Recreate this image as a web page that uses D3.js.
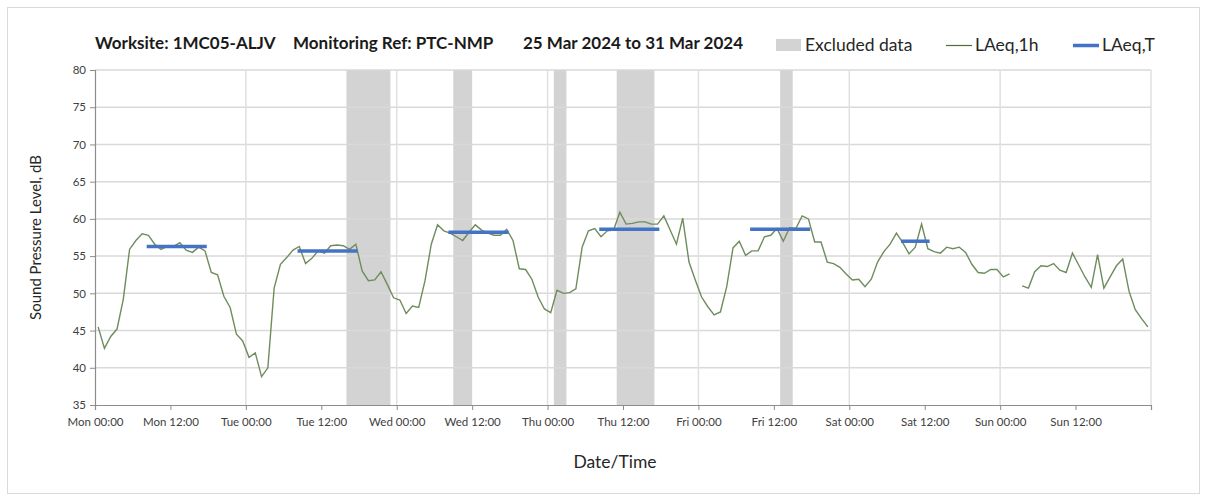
<!DOCTYPE html>
<html>
<head>
<meta charset="utf-8">
<script src="https://cdn.jsdelivr.net/npm/d3@7"></script>
<style>
  body { margin: 0; background: #fff; }
  text { font-family: Lato, "Open Sans", sans-serif; }
</style>
</head>
<body>
<div id="chart"></div>
<script>
// hourly LAeq,1h values starting Mon 25 Mar 2024 00:00 (plotted at mid hour)
var startDate = new Date(Date.UTC(2024, 2, 25, 0, 0));
var laeq1h = [
  45.5, 42.6, 44.2, 45.2, 49.2, 55.9, 57.1, 58.0, 57.8, 56.6, 55.9, 56.3,
  56.3, 56.8, 55.8, 55.5, 56.2, 55.7, 52.8, 52.5, 49.6, 48.1, 44.5, 43.6,
  41.4, 42.0, 38.8, 40.0, 50.7, 53.9, 54.8, 55.8, 56.3, 54.0, 54.7, 55.7,
  55.4, 56.4, 56.5, 56.4, 55.9, 56.6, 53.0, 51.7, 51.8, 52.9, 51.2, 49.4,
  49.1, 47.3, 48.3, 48.1, 51.7, 56.6, 59.2, 58.4, 58.1, 57.6, 57.1, 58.2,
  59.2, 58.5, 58.1, 57.8, 57.8, 58.6, 57.1, 53.3, 53.2, 51.9, 49.5, 47.9,
  47.4, 50.4, 50.0, 50.1, 50.6, 56.2, 58.4, 58.7, 57.6, 58.4, 58.5, 60.9,
  59.3, 59.4, 59.6, 59.6, 59.3, 59.3, 60.4, 58.5, 56.6, 60.1, 54.2, 51.8,
  49.5, 48.2, 47.1, 47.5, 50.9, 56.1, 57.0, 55.1, 55.7, 55.7, 57.6, 57.8,
  58.7, 57.0, 58.8, 58.7, 60.4, 60.0, 56.9, 56.9, 54.2, 54.0, 53.5, 52.6,
  51.8, 51.9, 50.9, 51.9, 54.2, 55.6, 56.6, 58.1, 56.8, 55.3, 56.2, 59.3,
  56.0, 55.6, 55.4, 56.2, 56.0, 56.2, 55.5, 53.9, 52.8, 52.7, 53.2, 53.2,
  52.2, 52.6, null, 51.0, 50.7, 52.9, 53.7, 53.6, 54.0, 53.1, 52.8, 55.4,
  53.8, 52.2, 50.8, 55.2, 50.7, 52.2, 53.7, 54.6, 50.3, 47.8, 46.6, 45.5
];

// LAeq,T periods: start hour, end hour, level
var periodStart = [8.5, 32.5, 56.5, 80.5, 104.5, 128.5];
var periodEnd   = [17.5, 41.5, 65.5, 89.5, 113.5, 132.5];
var periodLevel = [56.3, 55.7, 58.2, 58.6, 58.6, 57.0];

// excluded data windows (hours from start)
var exclStart = [40, 57, 73, 83, 109];
var exclEnd   = [47, 60, 75, 89, 111];

var yTicks = [35, 40, 45, 50, 55, 60, 65, 70, 75, 80];

function hrs(h) { return new Date(startDate.getTime() + h * 3600000); }

var W = 1208, H = 495,
    margin = {top: 70, right: 57, bottom: 90, left: 95},
    width = W - margin.left - margin.right,
    height = H - margin.top - margin.bottom;

var svg = d3.select("#chart").append("svg")
    .attr("width", W).attr("height", H);

svg.append("rect")
    .attr("x", 7.5).attr("y", 7.5)
    .attr("width", 1192).attr("height", 486)
    .attr("fill", "#fff").attr("stroke", "#d9d9d9");

var g = svg.append("g")
    .attr("transform", "translate(" + margin.left + "," + margin.top + ")");

var x = d3.scaleUtc().domain([hrs(0), hrs(168)]).range([0, width]);
var y = d3.scaleLinear().domain([35, 80]).range([height, 0]);

// excluded bands
g.selectAll(".excl")
  .data(exclStart.map(function(s, i){ return {s: s, e: exclEnd[i]}; }))
  .enter().append("rect")
    .attr("class", "excl")
    .attr("x", function(d){ return x(hrs(d.s)); })
    .attr("width", function(d){ return x(hrs(d.e)) - x(hrs(d.s)); })
    .attr("y", 0).attr("height", height)
    .attr("fill", "#d3d3d3");

// gridlines
g.append("g")
  .selectAll("line")
  .data(yTicks.slice(1))
  .enter().append("line")
    .attr("x1", 0).attr("x2", width)
    .attr("y1", function(d){ return y(d); })
    .attr("y2", function(d){ return y(d); })
    .attr("stroke", "#d9d9d9").attr("stroke-width", 1.5);

g.append("g")
  .selectAll("line")
  .data(d3.utcDay.range(hrs(24), hrs(169)))
  .enter().append("line")
    .attr("x1", function(d){ return x(d); })
    .attr("x2", function(d){ return x(d); })
    .attr("y1", 0).attr("y2", height)
    .attr("stroke", "#e0e0e0").attr("stroke-width", 1.5);

// axes
var fmt = d3.utcFormat("%a %H:%M");
var xAxis = d3.axisBottom(x)
    .tickValues(d3.utcHour.every(12).range(hrs(0), hrs(169)))
    .tickSize(5)
    .tickFormat(function(d){ return d >= hrs(168) ? "" : fmt(d); });

var gx = g.append("g")
    .attr("transform", "translate(0," + height + ")")
    .call(xAxis);
gx.selectAll("text").attr("dy", "1.1em");

var gy = g.append("g")
    .call(d3.axisLeft(y).tickValues(yTicks).tickSize(5).tickPadding(4));

[gx, gy].forEach(function(a){
  a.select(".domain").attr("stroke", "#8c8c8c").attr("stroke-width", 1.2);
  a.selectAll(".tick line").attr("stroke", "#8c8c8c");
  a.selectAll("text")
    .style("font-family", "Lato, 'Open Sans', sans-serif")
    .style("font-size", "11.5px")
    .attr("fill", "#404040");
});

// LAeq,1h line
var line = d3.line()
    .defined(function(d){ return d.v !== null; })
    .x(function(d){ return x(hrs(d.h + 0.5)); })
    .y(function(d){ return y(d.v); });

g.append("path")
    .datum(laeq1h.map(function(v, i){ return {h: i, v: v}; }))
    .attr("fill", "none")
    .attr("stroke", "#6f8c5c")
    .attr("stroke-width", 1.4)
    .attr("d", line);

// LAeq,T lines
g.selectAll(".period")
  .data(periodLevel.map(function(v, i){ return {s: periodStart[i], e: periodEnd[i], v: v}; }))
  .enter().append("line")
    .attr("class", "period")
    .attr("x1", function(d){ return x(hrs(d.s)); })
    .attr("x2", function(d){ return x(hrs(d.e)); })
    .attr("y1", function(d){ return y(d.v); })
    .attr("y2", function(d){ return y(d.v); })
    .attr("stroke", "#4472c4")
    .attr("stroke-width", 3.5)
    .attr("stroke-linecap", "square");

// axis titles
svg.append("text")
    .attr("transform", "translate(41," + (margin.top + height / 2) + ") rotate(-90)")
    .attr("text-anchor", "middle")
    .style("font-size", "15px")
    .attr("fill", "#262626")
    .text("Sound Pressure Level, dB");

svg.append("text")
    .attr("x", 615).attr("y", 468)
    .attr("text-anchor", "middle")
    .style("font-size", "17.5px")
    .attr("fill", "#262626")
    .text("Date/Time");

// title
var titleParts = ["Worksite: 1MC05-ALJV", "Monitoring Ref: PTC-NMP", "25 Mar 2024 to 31 Mar 2024"];
var titleX = [95, 293, 523];
svg.selectAll(".ttl")
  .data(titleParts)
  .enter().append("text")
    .attr("class", "ttl")
    .attr("x", function(d, i){ return titleX[i]; })
    .attr("y", 49)
    .style("font-size", "17px")
    .style("font-weight", "bold")
    .attr("fill", "#1a1a1a")
    .text(function(d){ return d; });

// legend
var lg = svg.append("g");
lg.append("rect").attr("x", 776).attr("y", 39).attr("width", 25).attr("height", 12).attr("fill", "#d3d3d3");
lg.append("text").attr("x", 805).attr("y", 51).style("font-size", "17.5px").attr("fill", "#262626").text("Excluded data");
lg.append("line").attr("x1", 946).attr("x2", 972).attr("y1", 45.5).attr("y2", 45.5)
  .attr("stroke", "#4f6f2f").attr("stroke-width", 1.2);
lg.append("text").attr("x", 975).attr("y", 51).style("font-size", "17.5px").attr("fill", "#262626").text("LAeq,1h");
lg.append("line").attr("x1", 1073).attr("x2", 1099).attr("y1", 45.5).attr("y2", 45.5)
  .attr("stroke", "#4472c4").attr("stroke-width", 3.5);
lg.append("text").attr("x", 1102).attr("y", 51).style("font-size", "17.5px").attr("fill", "#262626").text("LAeq,T");
</script>
</body>
</html>
